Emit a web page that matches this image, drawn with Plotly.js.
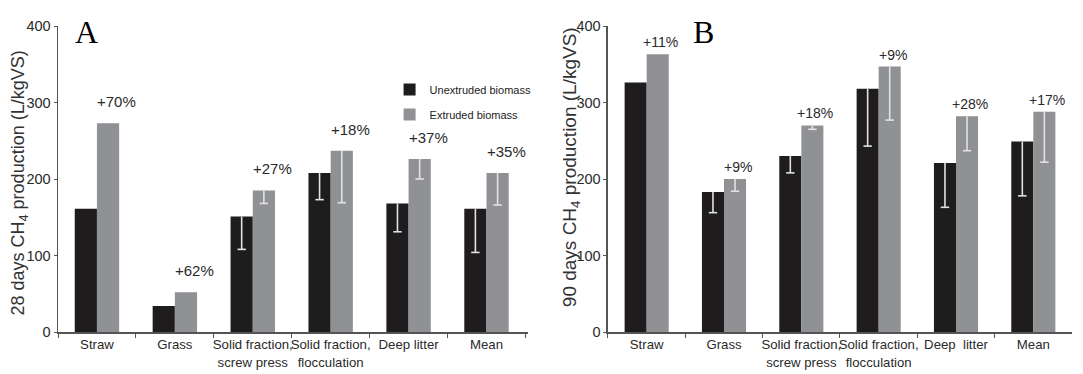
<!DOCTYPE html>
<html>
<head>
<meta charset="utf-8">
<script src="https://cdn.plot.ly/plotly-3.0.1.min.js"></script>
<style>html,body{margin:0;padding:0;background:#fff;}#chart{width:1083px;height:374px;}</style>
</head>
<body>
<div id="chart"></div>
<script>
// ---- data ----
var categoriesA = ["Straw", "Grass", "Solid fraction,<br>screw press", "Solid fraction,<br>flocculation", "Deep litter", "Mean"];
var categoriesB = ["Straw", "Grass", "Solid fraction,<br>screw press", "Solid fraction,<br>flocculation", "Deep\u00a0\u00a0litter", "Mean"];

var unextrudedA = [161, 34, 151, 208, 168, 161];
var unextrudedLowA = [null, null, 108, 173, 131, 104];
var extrudedA = [273, 52, 185, 237, 226, 208];
var extrudedLowA = [null, null, 168, 169, 200, 166];
var labelsA = ["+70%", "+62%", "+27%", "+18%", "+37%", "+35%"];

var unextrudedB = [326, 183, 230, 318, 221, 249];
var unextrudedLowB = [null, 156, 208, 243, 163, 178];
var extrudedB = [363, 200, 270, 347, 282, 288];
var extrudedLowB = [null, 184, 265, 277, 237, 222];
var labelsB = ["+11%", "+9%", "+18%", "+9%", "+28%", "+17%"];

var yTickVals = [0, 100, 200, 300, 400];

// ---- styles ----
var darkColor = "#1f1c1d";
var greyColor = "#909194";
var errColor = "#e2e2e2";
var sans = "Liberation Sans, Arial, sans-serif";
var textColor = "#2a2a2a";

function span(vals, lows) {
  return vals.map(function (v, i) { return lows[i] == null ? null : v - lows[i]; });
}
function zeros(vals) { return vals.map(function () { return 0; }); }

function barTrace(cats, vals, color, name, grp, xa, ya, showleg) {
  return {
    type: "bar", x: cats, y: vals, name: name,
    xaxis: xa, yaxis: ya, showlegend: showleg, legendgroup: name,
    offsetgroup: grp,
    marker: { color: color, line: { width: 0 } },
    hoverinfo: "x+y"
  };
}
// lower end of each error bar, drawn as a cap marker with a line up to the bar top
function errTrace(cats, vals, lows, grp, xa, ya) {
  return {
    type: "scatter", mode: "markers", x: cats, y: lows,
    xaxis: xa, yaxis: ya, showlegend: false, offsetgroup: grp,
    marker: { symbol: "line-ew", size: 6, color: errColor, line: { color: errColor, width: 1.6 } },
    error_y: { type: "data", symmetric: false, array: span(vals, lows), arrayminus: zeros(vals),
      color: errColor, thickness: 1.6, width: 0 },
    hoverinfo: "skip"
  };
}

var data = [
  barTrace(categoriesA, unextrudedA, darkColor, "Unextruded biomass", "u", "x", "y", true),
  barTrace(categoriesA, extrudedA, greyColor, "Extruded biomass", "e", "x", "y", true),
  barTrace(categoriesB, unextrudedB, darkColor, "Unextruded biomass", "u", "x2", "y2", false),
  barTrace(categoriesB, extrudedB, greyColor, "Extruded biomass", "e", "x2", "y2", false),
  errTrace(categoriesA, unextrudedA, unextrudedLowA, "u", "x", "y"),
  errTrace(categoriesA, extrudedA, extrudedLowA, "e", "x", "y"),
  errTrace(categoriesB, unextrudedB, unextrudedLowB, "u", "x2", "y2"),
  errTrace(categoriesB, extrudedB, extrudedLowB, "e", "x2", "y2")
];

var annotations = [];
labelsA.forEach(function (t, i) {
  annotations.push({ x: categoriesA[i], y: extrudedA[i], xref: "x", yref: "y", text: t, showarrow: false,
    yanchor: "bottom", xshift: 20, yshift: 11, font: { family: sans, size: 15, color: textColor } });
});
labelsB.forEach(function (t, i) {
  annotations.push({ x: categoriesB[i], y: extrudedB[i], xref: "x2", yref: "y2", text: t, showarrow: false,
    yanchor: "bottom", xshift: 14, yshift: 2, font: { family: sans, size: 14, color: textColor } });
});
// panel letters
annotations.push({ x: 0.0281, y: 0.980, xref: "paper", yref: "paper", xanchor: "center", yanchor: "middle",
  text: "A", showarrow: false, font: { family: "Liberation Serif, Times New Roman, serif", size: 32, color: "#000" } });
annotations.push({ x: 0.637, y: 0.980, xref: "paper", yref: "paper", xanchor: "center", yanchor: "middle",
  text: "B", showarrow: false, font: { family: "Liberation Serif, Times New Roman, serif", size: 32, color: "#000" } });
// y axis titles
annotations.push({ x: -0.0375, y: 0.4886, xref: "paper", yref: "paper", xanchor: "center", yanchor: "middle",
  textangle: -90, showarrow: false,
  text: "28 days CH<sub>4</sub> production (L/kgVS)", font: { family: sans, size: 18, color: "#333" } });
annotations.push({ x: 0.5066, y: 0.5376, xref: "paper", yref: "paper", xanchor: "center", yanchor: "middle",
  textangle: -90, showarrow: false,
  text: "90 days CH<sub>4</sub> production (L/kgVS)", font: { family: sans, size: 19, color: "#333" } });

function xAxis(domain, anchor) {
  return {
    domain: domain, anchor: anchor, type: "category",
    showline: true, linecolor: "#555", linewidth: 1.5,
    ticks: "outside", ticklen: 4, tickcolor: "#555", tickson: "boundaries",
    showgrid: false, zeroline: false, tickangle: 0,
    tickfont: { family: sans, size: 13.2, color: textColor }
  };
}
function yAxis(domain, anchor) {
  return {
    domain: domain, anchor: anchor, range: [0, 400], tickvals: yTickVals,
    showline: true, linecolor: "#555", linewidth: 1.5,
    ticks: "outside", ticklen: 3, tickcolor: "#555",
    showgrid: false, zeroline: false,
    tickfont: { family: sans, size: 14.5, color: textColor }
  };
}

var layout = {
  width: 1083, height: 374,
  margin: { l: 58, r: 11, t: 26, b: 42 },
  paper_bgcolor: "#fff", plot_bgcolor: "#fff",
  barmode: "group", bargap: 0.43, bargroupgap: 0,
  scattermode: "group", scattergap: 0.43,
  xaxis: xAxis([0, 0.4635], "y"),
  yaxis: yAxis([0, 1], "x"),
  xaxis2: xAxis([0.5424, 1], "y2"),
  yaxis2: yAxis([0, 1], "x2"),
  showlegend: true,
  legend: {
    x: 0.327, y: 0.84, xanchor: "left", yanchor: "top",
    bgcolor: "rgba(0,0,0,0)", tracegroupgap: 6,
    font: { family: sans, size: 11, color: "#222" }
  },
  annotations: annotations
};

Plotly.newPlot("chart", data, layout, { displayModeBar: false, staticPlot: true });
</script>
</body>
</html>
